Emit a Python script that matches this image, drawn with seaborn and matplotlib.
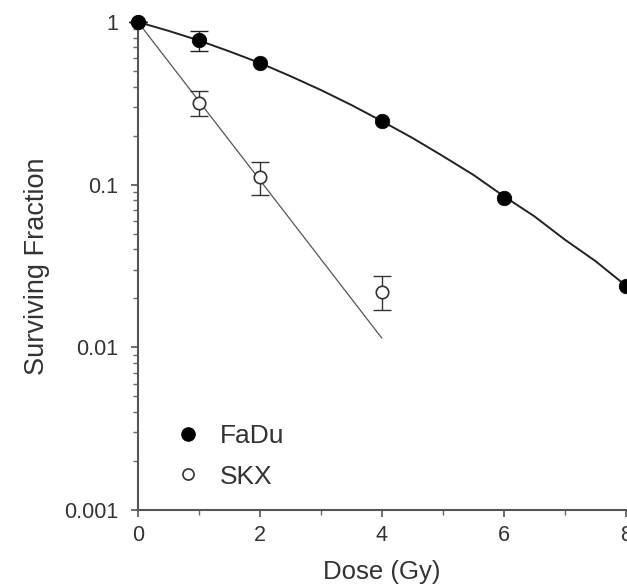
import numpy as np
import pandas as pd
import matplotlib
matplotlib.use("Agg")
import matplotlib.pyplot as plt
from matplotlib.lines import Line2D
from matplotlib.ticker import LogLocator, FixedLocator, NullFormatter
import seaborn as sns

# ── Data ──
fadu_dose = [0, 1, 2, 4, 6, 8]
fadu_sf = [1.0, 0.77, 0.56, 0.246, 0.083, 0.024]
fadu_err = [0.0, 0.105, 0.0, 0.0, 0.0, 0.0]

skx_dose = [0, 1, 2, 4]
skx_sf = [1.0, 0.32, 0.112, 0.022]
skx_err_lo = [0.0, 0.056, 0.026, 0.005]
skx_err_hi = [0.0, 0.056, 0.025, 0.0055]

# fitted curves, values
fadu_fit_dose = [0, 0.5, 1, 1.5, 2, 2.5, 3, 3.5, 4, 4.5, 5, 5.5, 6, 6.5, 7, 7.5, 8]
fadu_fit_sf = [1.0, 0.883, 0.77, 0.66, 0.56, 0.465, 0.382, 0.309, 0.246,
               0.194, 0.150, 0.115, 0.085, 0.064, 0.046, 0.034, 0.024]
skx_fit_dose = [0, 4]
skx_fit_sf = [1.0, 0.0114]

fadu = pd.DataFrame({"Dose": fadu_dose, "SF": fadu_sf})
skx = pd.DataFrame({"Dose": skx_dose, "SF": skx_sf})
fadu_fit = pd.DataFrame({"Dose": fadu_fit_dose, "SF": fadu_fit_sf})
skx_fit = pd.DataFrame({"Dose": skx_fit_dose, "SF": skx_fit_sf})

sns.set_style("ticks")
plt.rcParams["font.family"] = ["Liberation Sans", "DejaVu Sans"]

fig = plt.figure(figsize=(6.27, 5.87), dpi=100)
ax = fig.add_axes([0.220, 0.131, 0.778, 0.8315])

# fit lines
sns.lineplot(data=fadu_fit, x="Dose", y="SF", ax=ax, color="#222222",
             linewidth=1.4, clip_on=False)
sns.lineplot(data=skx_fit, x="Dose", y="SF", ax=ax, color="#555555",
             linewidth=0.9, clip_on=False)

# error bars
ax.errorbar(skx_dose, skx_sf, yerr=[skx_err_lo, skx_err_hi], fmt="none",
            ecolor="#333333", elinewidth=1.0, capsize=6.5, capthick=1.0,
            clip_on=False)
ax.errorbar(fadu_dose[:2], fadu_sf[:2], yerr=fadu_err[:2], fmt="none",
            ecolor="#222222", elinewidth=1.0, capsize=6.5, capthick=1.0,
            clip_on=False)

# points
sns.scatterplot(data=skx, x="Dose", y="SF", ax=ax, marker="o", s=80,
                facecolor="white", edgecolor="#333333", linewidth=1.2,
                clip_on=False, zorder=4)
sns.scatterplot(data=fadu, x="Dose", y="SF", ax=ax, marker="o", s=110,
                color="black", edgecolor="black", linewidth=0.5,
                clip_on=False, zorder=5)

ax.set_yscale("log")
ax.set_xlim(0, 8)
ax.set_ylim(0.001, 1)
ax.set_xticks([0, 2, 4, 6, 8])
ax.xaxis.set_minor_locator(FixedLocator([1, 3, 5, 7]))
ax.set_yticks([0.001, 0.01, 0.1, 1])
ax.set_yticklabels(["0.001", "0.01", "0.1", "1"])
ax.yaxis.set_minor_locator(LogLocator(base=10, subs=np.arange(2, 10)))
ax.yaxis.set_minor_formatter(NullFormatter())

for s in ["top", "right"]:
    ax.spines[s].set_visible(False)
for s in ["left", "bottom"]:
    ax.spines[s].set_color("#555555")
    ax.spines[s].set_linewidth(1.5)

ax.tick_params(axis="both", which="major", direction="out", length=5,
               width=1.2, color="#555555", labelsize=15.5, labelcolor="#333333")
ax.tick_params(axis="y", which="major", pad=9)
ax.tick_params(axis="x", which="major", pad=6)
ax.tick_params(axis="both", which="minor", direction="out", length=3.5,
               width=1.0, color="#666666")

ax.set_xlabel("Dose (Gy)", fontsize=18.5, color="#333333", labelpad=10)
ax.set_ylabel("Surviving Fraction", fontsize=19.5, color="#333333", labelpad=10)

handles = [
    Line2D([], [], linestyle="none", marker="o", markersize=9.5,
           markerfacecolor="black", markeredgecolor="black"),
    Line2D([], [], linestyle="none", marker="o", markersize=8,
           markerfacecolor="white", markeredgecolor="#333333",
           markeredgewidth=1.2),
]
leg = ax.legend(handles, ["FaDu", "SKX"], loc="upper left",
                bbox_to_anchor=(0.076, 0.176), frameon=False, fontsize=19,
                borderpad=0, borderaxespad=0,
                handletextpad=0.7, labelspacing=0.62, handlelength=1.0)
for t in leg.get_texts():
    t.set_color("#333333")

fig.savefig("out.png", dpi=100)
